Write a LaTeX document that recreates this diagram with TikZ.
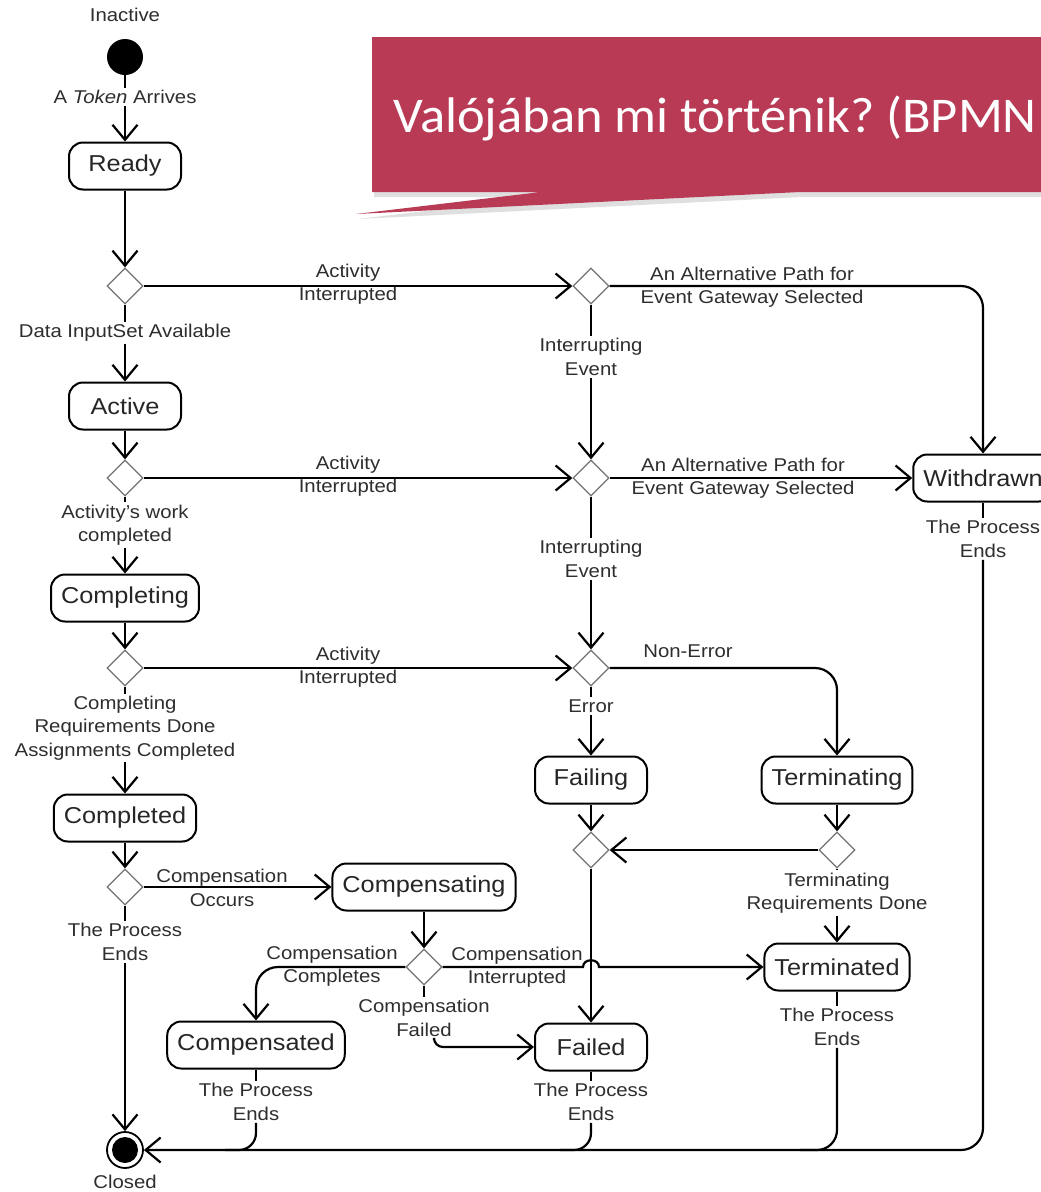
\documentclass[tikz,border=0pt]{standalone}
\usepackage{fontspec}
\setmainfont{Liberation Sans}[FakeStretch=1.1]
\newfontfamily\bannerfont{Carlito}[FakeStretch=1.05]
\usetikzlibrary{shapes.geometric,arrows.meta,shadows}
\definecolor{bannerred}{RGB}{185,58,85}
\frenchspacing
\begin{document}
\begin{tikzpicture}[x=1pt,y=-1pt,
 state/.style={draw, line width=2pt, rounded corners=14pt, minimum width=112pt, minimum height=47pt, inner xsep=10pt, font=\fontsize{23}{27}\selectfont, text=black!85},
 gate/.style={draw=black!55, line width=1.3pt, diamond, aspect=1, minimum size=36pt, inner sep=0pt, fill=white},
 lbl/.style={font=\fontsize{18.5}{23.5}\selectfont, align=center, inner sep=2pt, text=black!82},
 arr/.style={line width=2.2pt, -{Straight Barb[length=15pt,width=25pt]}},
 ln/.style={line width=2.2pt}]
\fill[white] (0,0) rectangle (1041,1192);
\useasboundingbox (0,0) rectangle (1041,1192);
\clip (0,0) rectangle (1041,1192);

% banner
\fill[bannerred, drop shadow={shadow xshift=2pt,shadow yshift=-5pt,opacity=0.25}]
  (372,37) -- (1070,37) -- (1070,192) -- (800,192) -- (356,214) -- (541,192) -- (372,192) -- cycle;
\node[anchor=base west, text=white, font=\bannerfont\fontsize{50}{60}\selectfont, inner sep=0pt] (title) at (393,132) {Valójában mi történik? (BPMN};

% left column
\node[lbl] (inactive) at (125,15) {Inactive};
\node[circle, fill=black, minimum size=36pt, inner sep=0pt] (start) at (125,57) {};
\node[lbl] (tok) at (125,97) {A \textit{Token} Arrives};
\node[state] (ready) at (125,166) {Ready};
\node[gate] (d1) at (125,286) {};
\node[lbl] (dia) at (125,333) {Data InputSet Available};
\node[state] (active) at (125,406) {Active};
\node[gate] (d2) at (125,478) {};
\node[lbl] (awc) at (125,525) {Activity’s work\\completed};
\node[state] (completing) at (125,598) {Completing};
\node[gate] (d3) at (125,668) {};
\node[lbl] (crd) at (125,728) {Completing\\Requirements Done\\Assignments Completed};
\node[state] (completed) at (125,818) {Completed};
\node[gate] (d4) at (125,887) {};
\node[lbl] (tpe1) at (125,942) {The Process\\Ends};
\node[circle, draw, line width=1.8pt, minimum size=36pt, inner sep=0pt] (closed) at (125,1150) {};
\fill (closed.center) circle[radius=13pt];
\node[lbl] (closedl) at (125,1182) {Closed};

% middle / right
\node[gate] (da) at (591,286) {};
\node[lbl] (ie1) at (591,357) {Interrupting\\Event};
\node[gate] (db) at (591,478) {};
\node[lbl] (ie2) at (591,559) {Interrupting\\Event};
\node[gate] (dc) at (591,668) {};
\node[lbl] (err) at (591,706) {Error};
\node[state] (failing) at (591,780) {Failing};
\node[state] (terminating) at (837,780) {Terminating};
\node[gate] (dd) at (591,850) {};
\node[gate] (de) at (837,850) {};
\node[lbl] (trd) at (837,893) {Terminating\\Requirements Done};
\node[state] (terminated) at (837,967) {Terminated};
\node[lbl] (tpe3) at (837,1027) {The Process\\Ends};
\node[state] (failed) at (591,1047) {Failed};
\node[lbl] (tpe4) at (591,1102) {The Process\\Ends};
\node[state] (withdrawn) at (983,478) {Withdrawn};
\node[lbl] (tpe2) at (983,539) {The Process\\Ends};
\node[state] (compensating) at (424,887) {Compensating};
\node[gate] (df) at (424,967) {};
\node[lbl] (cf) at (424,1018) {Compensation\\Failed};
\node[state] (compensated) at (256,1045) {Compensated};
\node[lbl] (tpe5) at (256,1102) {The Process\\Ends};

% edge labels
\node[lbl] (ai1) at (348,284) {Activity\\Interrupted};
\node[lbl] (ai2) at (348,476) {Activity\\Interrupted};
\node[lbl] (ai3) at (348,667) {Activity\\Interrupted};
\node[lbl] (alt1) at (752,287) {An Alternative Path for\\Event Gateway Selected};
\node[lbl] (alt2) at (743,478) {An Alternative Path for\\Event Gateway Selected};
\node[lbl] (nonerr) at (688,651) {Non-Error};
\node[lbl] (co) at (222,888) {Compensation\\Occurs};
\node[lbl] (cc) at (332,966) {Compensation\\Completes};
\node[lbl] (ci) at (517,967) {Compensation\\Interrupted};

% edges left column
\draw[ln] (start) -- (tok);
\draw[arr] (tok) -- (ready);
\draw[arr] (ready) -- (d1);
\draw[ln] (d1) -- (dia);
\draw[arr] (dia) -- (active);
\draw[arr] (active) -- (d2);
\draw[ln] (d2) -- (awc);
\draw[arr] (awc) -- (completing);
\draw[arr] (completing) -- (d3);
\draw[ln] (d3) -- (crd);
\draw[arr] (crd) -- (completed);
\draw[arr] (completed) -- (d4);
\draw[ln] (d4) -- (tpe1);
\draw[arr] (tpe1) -- (closed);

% interruptions
\draw[arr] (d1) -- (da);
\draw[arr] (d2) -- (db);
\draw[arr] (d3) -- (dc);
\draw[arr,rounded corners=22pt] (da) -| (withdrawn);
\draw[ln] (da) -- (ie1);
\draw[arr] (ie1) -- (db);
\draw[arr] (db) -- (withdrawn);
\draw[ln] (db) -- (ie2);
\draw[arr] (ie2) -- (dc);
\draw[arr,rounded corners=22pt] (dc) -| (terminating);
\draw[ln] (dc) -- (err);
\draw[arr] (err) -- (failing);
\draw[arr] (failing) -- (dd);
\draw[arr] (terminating) -- (de);
\draw[arr] (de) -- (dd);
\draw[ln] (de) -- (trd);
\draw[arr] (trd) -- (terminated);
\draw[arr] (dd) -- (failed);

% compensation
\draw[arr] (d4) -- (compensating);
\draw[arr] (compensating) -- (df);
\draw[arr,rounded corners=22pt] (df) -| (compensated);
\draw[arr] (df.east) -- (583,967) .. controls (583,958) and (599,958) .. (599,967) -- (terminated);
\draw[ln] (df) -- (cf);
\coordinate (cfs) at (434,1040);
\draw[arr,rounded corners=9pt] (cfs) |- (failed);

% process ends
\draw[ln] (withdrawn) -- (tpe2);
\draw[arr,rounded corners=22pt] (tpe2) |- (closed);
\draw[ln] (terminated) -- (tpe3);
\coordinate (j3) at (800,1150);
\draw[ln,rounded corners=20pt] (tpe3) |- (j3);
\draw[ln] (failed) -- (tpe4);
\coordinate (j4) at (560,1150);
\draw[ln,rounded corners=17pt] (tpe4) |- (j4);
\draw[ln] (compensated) -- (tpe5);
\coordinate (j5) at (225,1150);
\draw[ln,rounded corners=17pt] (tpe5) |- (j5);
\end{tikzpicture}
\end{document}
